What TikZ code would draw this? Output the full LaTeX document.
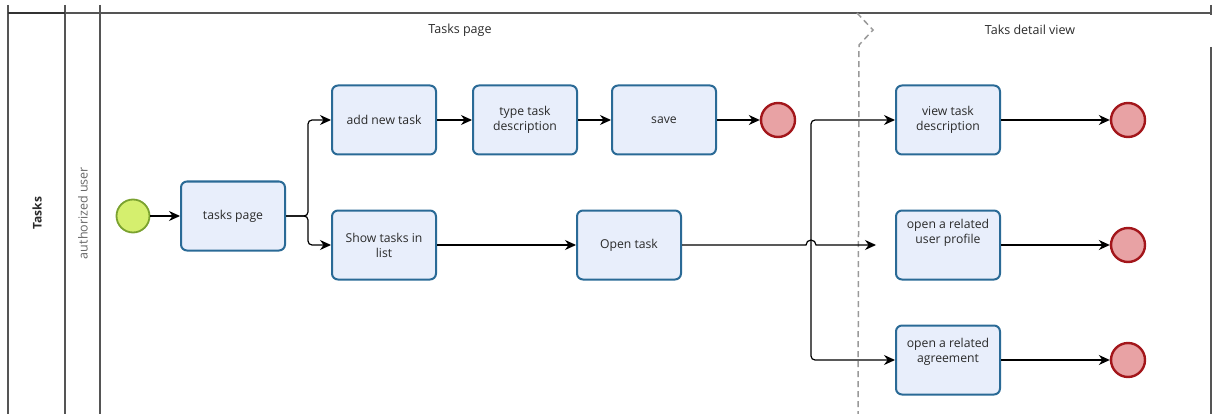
\documentclass[tikz,border=0pt]{standalone}
\usepackage{fontspec}
\setmainfont{Open Sans}
\usetikzlibrary{arrows.meta}
\definecolor{taskfill}{HTML}{E8EEFB}
\definecolor{taskline}{HTML}{2A6A96}
\definecolor{endfill}{HTML}{E8A2A4}
\definecolor{endline}{HTML}{A3161B}
\definecolor{startfill}{HTML}{D5EF6E}
\definecolor{startline}{HTML}{7BA230}
\definecolor{lanegray}{HTML}{555555}
\definecolor{txt}{HTML}{2A2A2A}
\tikzset{
  stepbox/.style={draw=taskline, fill=taskfill, line width=2pt, rounded corners=6pt,
    minimum width=104pt, minimum height=69pt, align=center, text=txt,
    font=\fontsize{12.2}{15}\selectfont, inner sep=2pt},
  startev/.style={circle, draw=startline, fill=startfill, line width=1.8pt, minimum size=33pt, inner sep=0pt},
  endev/.style={circle, draw=endline, fill=endfill, line width=2.4pt, minimum size=34pt, inner sep=0pt},
  flow/.style={draw=black, line width=1.2pt, rounded corners=4pt, -{Stealth[length=11pt,width=10pt]}},
  lane/.style={draw=lanegray, line width=1.3pt},
  hdr/.style={text=txt, font=\fontsize{12.5}{14}\selectfont},
}
\begin{document}
\begin{tikzpicture}[x=1pt,y=-1pt]
\useasboundingbox (0,0) rectangle (1214,414);

% pool and lane frame
\draw[lane] (8,5) -- (8,414);
\draw[lane] (65,5) -- (65,414);
\draw[lane] (100,5) -- (100,414);
\draw[lane] (8,13) -- (1211,13);
\draw[lane] (1211,5) -- (1211,15);
\draw[lane] (1211,47) -- (1211,414);
\draw[draw=black!80, line width=1.3pt] (8,13) -- (65,13);

% phase separator
\draw[draw=black!40, line width=1.5pt, dash pattern=on 6pt off 4pt]
  (857,13) -- (873,30) -- (859,45) -- (858,414);

% headers
\node[hdr, font=\fontsize{12}{14}\selectfont\bfseries, rotate=90] (pool) at (37,213) {Tasks};
\node[hdr, text=black!60, rotate=90] (lanename) at (83,213) {authorized user};
\node[hdr] (ph1) at (460,30) {Tasks page};
\node[hdr] (ph2) at (1030,30) {Taks detail view};

% flow elements
\node[startev] (start) at (133,216) {};
\node[stepbox] (tp) at (233,216) {tasks page};
\node[stepbox] (add) at (384,120) {add new task};
\node[stepbox] (type) at (525,120) {type task\\description};
\node[stepbox] (save) at (664,120) {save};
\node[endev] (end1) at (778,120) {};
\node[stepbox] (show) at (384,245) {Show tasks in\\list};
\node[stepbox] (open) at (629,245) {Open task};
\node[stepbox] (view) at (948,120) {view task\\description};
\node[stepbox] (up) at (948,245) {open a related\\user profile\\[12pt]};
\node[stepbox] (agree) at (948,360) {open a related\\agreement\\[4pt]};
\node[endev] (end2) at (1128,120) {};
\node[endev] (end3) at (1128,245) {};
\node[endev] (end4) at (1128,360) {};

% connectors
\coordinate (fork) at (308,216);
\coordinate (split) at (811,245);
\draw[flow] (start) -- (tp);
\draw[flow] (tp.east) -- (fork) |- (add.west);
\draw[flow] (tp.east) -- (fork) |- (show.west);
\draw[flow] (add) -- (type);
\draw[flow] (type) -- (save);
\draw[flow] (save) -- (end1);
\draw[flow] (show) -- (open);
\draw[flow, rounded corners=0pt, shorten >=19pt] (open.east) -- ([xshift=-5pt]split) arc (180:360:5) -- (up.west);
\draw[flow] (split) |- (view.west);
\draw[flow] (split) |- (agree.west);
\draw[flow] (view) -- (end2);
\draw[flow] (up) -- (end3);
\draw[flow] (agree) -- (end4);
\end{tikzpicture}
\end{document}
